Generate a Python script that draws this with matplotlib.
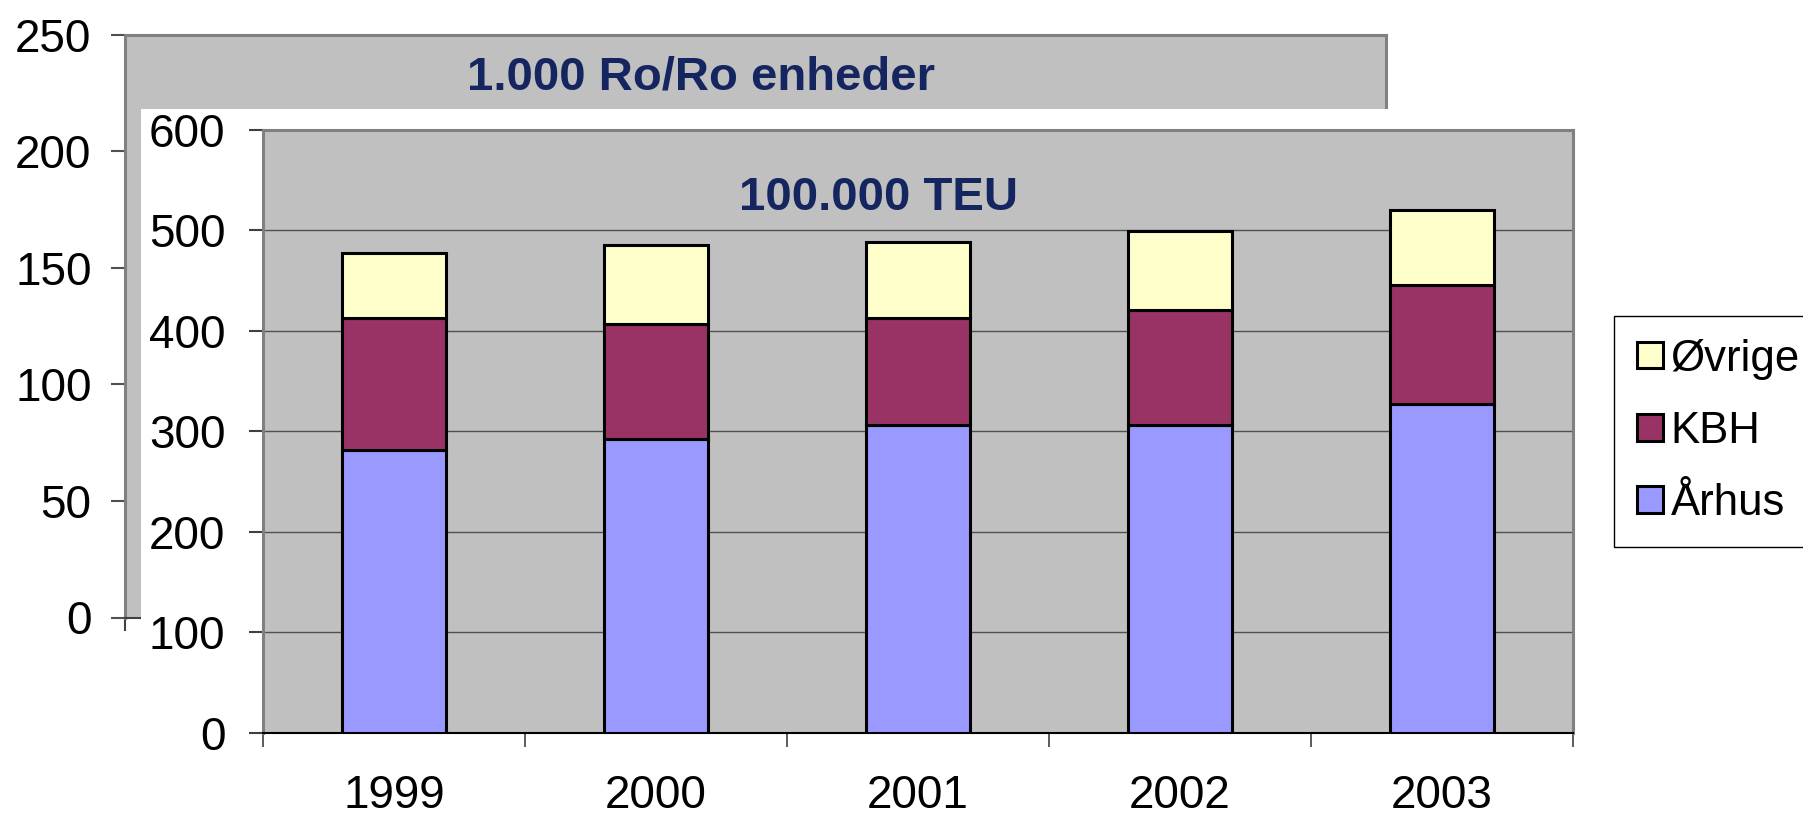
import matplotlib
matplotlib.use("Agg")
import matplotlib.pyplot as plt
from matplotlib.patches import Rectangle, Patch
import numpy as np

# ---- data ----
years = ['1999', '2000', '2001', '2002', '2003']
aarhus = [281, 292, 306, 306, 327]
kbh = [132, 115, 107, 115, 119]
ovrige = [65, 78, 75, 78, 74]
outer_ticks = [0, 50, 100, 150, 200, 250]
inner_ticks = [0, 100, 200, 300, 400, 500, 600]
series_names = ['Århus', 'KBH', 'Øvrige']
outer_title = '1.000 Ro/Ro enheder'
inner_title = '100.000 TEU'

plt.rcParams['font.family'] = ['Liberation Sans', 'DejaVu Sans']

W, H = 1803, 819
fig = plt.figure(figsize=(W / 100, H / 100), dpi=100)
fig.patch.set_facecolor('white')

def fx(px):
    return px / W

def fy(py):
    return 1 - py / H

GRAY_BG = '#C0C0C0'
SPINE = '#808080'
NAVY = '#15255F'
FS = 33
LFS = 31.5

# ---- outer (background) chart ----
ax1 = fig.add_axes([fx(125), fy(617.5), fx(1386) - fx(125), fy(34.5) - fy(617.5)])
ax1.set_zorder(1)
ax1.set_facecolor(GRAY_BG)
ax1.set_ylim(0, 250)
ax1.set_xlim(0, 1)
ax1.set_yticks(outer_ticks)
ax1.set_yticklabels([str(t) for t in outer_ticks], fontsize=FS)
ax1.set_xticks([0])
ax1.set_xticklabels([''])
ax1.tick_params(axis='x', direction='out', length=13 * 0.72, width=1.5, color='#404040')
ax1.tick_params(axis='y', direction='out', length=14 * 0.72, width=1.5, color='#505050', pad=14)
for s in ['left', 'top', 'right']:
    ax1.spines[s].set_color(SPINE)
    ax1.spines[s].set_linewidth(2.2)
ax1.spines['bottom'].set_color('#404040')
ax1.spines['bottom'].set_linewidth(1.5)
ax1.text(0.4568, 0.9254, outer_title, transform=ax1.transAxes, ha='center', va='center',
         fontsize=34, fontweight='bold', color=NAVY)

# white panel of the inner chart covering the outer one
fig.add_artist(Rectangle((fx(141), 0), 1 - fx(141), fy(109), transform=fig.transFigure,
                         facecolor='white', edgecolor='none', zorder=1.5))

# ---- inner (front) chart ----
ax2 = fig.add_axes([fx(263), fy(732.5), fx(1573) - fx(263), fy(130) - fy(732.5)])
ax2.set_zorder(2)
ax2.set_facecolor(GRAY_BG)
x = np.arange(len(years))
bw = 0.395
colors = {'Århus': '#9999FF', 'KBH': '#993366', 'Øvrige': '#FFFFCC'}
bottom = np.zeros(len(years))
for name, vals in zip(series_names, [aarhus, kbh, ovrige]):
    ax2.bar(x, vals, bw, bottom=bottom, color=colors[name], edgecolor='black',
            linewidth=2.2, zorder=3)
    bottom += np.array(vals)

ax2.set_xlim(-0.5, len(years) - 0.5)
ax2.set_ylim(0, 600)
ax2.set_yticks(inner_ticks)
ax2.set_yticklabels([str(t) for t in inner_ticks], fontsize=FS)
ax2.set_xticks(x)
ax2.set_xticklabels(years, fontsize=FS)
ax2.set_xticks(np.arange(-0.5, len(years), 1.0), minor=True)
ax2.tick_params(axis='x', which='major', length=0, pad=30)
ax2.tick_params(axis='x', which='minor', direction='out', length=14 * 0.72, width=1.2, color='#404040')
ax2.tick_params(axis='y', direction='out', length=14 * 0.72, width=1.5, color='#404040', pad=17)
ax2.yaxis.grid(True, color='#505050', linewidth=1.0, zorder=1)
ax2.set_axisbelow(True)
for s in ['left', 'top', 'right']:
    ax2.spines[s].set_color(SPINE)
    ax2.spines[s].set_linewidth(2.2)
ax2.spines['bottom'].set_color('black')
ax2.spines['bottom'].set_linewidth(1.5)
ax2.text(0.4695, 0.8871, inner_title, transform=ax2.transAxes, ha='center', va='center',
         fontsize=34, fontweight='bold', color=NAVY, zorder=5)

# ---- legend ----
handles = [Patch(facecolor=colors[n], edgecolor='black', linewidth=2.2, label=n)
           for n in reversed(series_names)]
leg = fig.legend(handles=handles, loc='upper left', bbox_to_anchor=(fx(1614), fy(316)),
                 bbox_transform=fig.transFigure, borderaxespad=0, fontsize=LFS,
                 frameon=True, fancybox=False, framealpha=1, edgecolor='black',
                 handlelength=0.6, handleheight=0.55, handletextpad=0.18,
                 borderpad=0.52, labelspacing=0.71)
leg.get_frame().set_linewidth(1.0)
leg.set_zorder(5)

fig.savefig('out.png', dpi=100)
